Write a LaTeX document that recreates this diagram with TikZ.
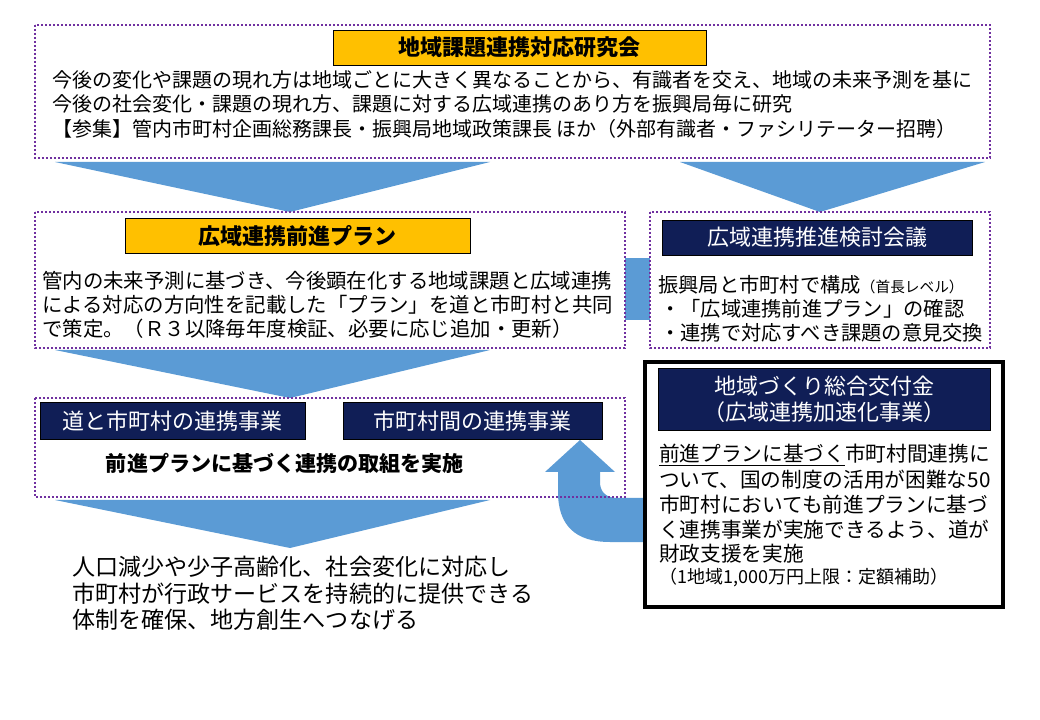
\documentclass[tikz,border=0pt]{standalone}
\usepackage{fontspec}
\setmainfont{Noto Sans CJK JP}
\definecolor{navy}{RGB}{16,30,86}
\definecolor{gold}{RGB}{255,192,0}
\definecolor{arrowblue}{RGB}{91,155,213}
\definecolor{dotpurple}{RGB}{112,48,160}
\newcommand{\fs}[1]{\fontsize{#1}{#1}\selectfont}
\tikzset{
  dotbox/.style={draw=dotpurple, line width=2.2pt, dash pattern=on 1.6pt off 1.4pt},
  goldbox/.style={draw=black, fill=gold, line width=0.6pt},
  navybox/.style={draw=black, fill=navy, text=white},
  txt/.style={anchor=west, inner sep=0pt},
  blue/.style={fill=arrowblue, draw=none},
}
\begin{document}
\begin{tikzpicture}[x=0.75pt,y=-0.75pt]
\useasboundingbox (0,0) rectangle (1040,720);
\fill[white] (0,0) rectangle (1040,720);
% arrows
\fill[blue] (55,162) -- (490,162) -- (290,212) -- cycle;
\fill[blue] (680,162) -- (985,162) -- (820,212) -- cycle;
\fill[blue] (55,350) -- (490,350) -- (290,398) -- cycle;
\fill[blue] (55,500) -- (490,500) -- (290,548) -- cycle;
\fill[blue] (625,258) rectangle (650,320);
\fill[blue] (645,498) -- (618,498) .. controls (606,498) and (600,492) .. (600,482) -- (600,472) -- (615,472) -- (580,440) -- (545,472) -- (558,472) -- (558,492) .. controls (558,525) and (575,542) .. (610,542) -- (645,542) -- cycle;
% top box
\draw[dotbox] (35,25) rectangle (990,158);
\node[goldbox, minimum width=373*0.75pt, minimum height=35*0.75pt, font=\fs{16.5}\bfseries] (t1) at (519.5,47.5) {地域課題連携対応研究会};
\node[txt, font=\fs{15}] (t1a) at (52,80) {今後の変化や課題の現れ方は地域ごとに大きく異なることから、有識者を交え、地域の未来予測を基に};
\node[txt, font=\fs{15}] (t1b) at (52,104) {今後の社会変化・課題の現れ方、課題に対する広域連携のあり方を振興局毎に研究};
\node[txt, font=\fs{15}] (t1c) at (52,129) {【参集】管内市町村企画総務課長・振興局地域政策課長 ほか（外部有識者・ファシリテーター招聘）};
% middle left
\draw[dotbox] (35,212) rectangle (625,348);
\node[goldbox, minimum width=345*0.75pt, minimum height=35*0.75pt, font=\fs{16.5}\bfseries] (t2) at (297.5,236) {広域連携前進プラン};
\node[txt, font=\fs{15.3}] (t2a) at (42,281) {管内の未来予測に基づき、今後顕在化する地域課題と広域連携};
\node[txt, font=\fs{15.3}] (t2b) at (42,305) {による対応の方向性を記載した「プラン」を道と市町村と共同};
\node[txt, font=\fs{15.3}] (t2c) at (42,329) {で策定。（Ｒ３以降毎年度検証、必要に応じ追加・更新）};
% middle right
\draw[dotbox] (650,212) rectangle (990,348);
\node[navybox, minimum width=310*0.75pt, minimum height=35*0.75pt, font=\fs{16.5}] (t3) at (817,237.5) {広域連携推進検討会議};
\node[txt, font=\fs{15.2}] (t3a) at (658,285) {振興局と市町村で構成{\fs{11}（首長レベル）}};
\node[txt, font=\fs{15.2}] (t3b) at (660,309) {・「広域連携前進プラン」の確認};
\node[txt, font=\fs{15.2}] (t3c) at (660,333) {・連携で対応すべき課題の意見交換};
% lower box
\draw[dotbox] (35,398) rectangle (625,497);
\node[navybox, minimum width=265*0.75pt, minimum height=37*0.75pt, font=\fs{16.5}] (n1) at (172.5,421) {道と市町村の連携事業};
\node[navybox, minimum width=259*0.75pt, minimum height=37*0.75pt, font=\fs{16.5}] (n2) at (472.5,421) {市町村間の連携事業};
\node[font=\fs{15.8}\bfseries, inner sep=0pt] (n3) at (285,463) {前進プランに基づく連携の取組を実施};
% bottom text
\node[txt, font=\fs{17.3}] (b1) at (72,567) {人口減少や少子高齢化、社会変化に対応し};
\node[txt, font=\fs{17.3}] (b2) at (72,594) {市町村が行政サービスを持続的に提供できる};
\node[txt, font=\fs{17.3}] (b3) at (72,620) {体制を確保、地方創生へつなげる};
% right black box
\draw[line width=3pt, fill=white] (645,362) rectangle (1003,607);
\node[navybox, minimum width=332*0.75pt, minimum height=62*0.75pt, align=center, font=\fs{16.5}] (k1) at (824,399) {地域づくり総合交付金\\[3pt]（広域連携加速化事業）};
\node[txt, font=\fs{15.5}] (k2) at (659,455) {\underline{前進プランに基づく}市町村間連携に};
\node[txt, font=\fs{15.5}] (k3) at (659,480) {ついて、国の制度の活用が困難な50};
\node[txt, font=\fs{15.5}] (k4) at (659,505) {市町村においても前進プランに基づ};
\node[txt, font=\fs{15.5}] (k5) at (659,530) {く連携事業が実施できるよう、道が};
\node[txt, font=\fs{15.5}] (k6) at (659,554) {財政支援を実施};
\node[txt, font=\fs{13.5}] (k7) at (659,578) {（1地域1,000万円上限：定額補助）};
\end{tikzpicture}
\end{document}
